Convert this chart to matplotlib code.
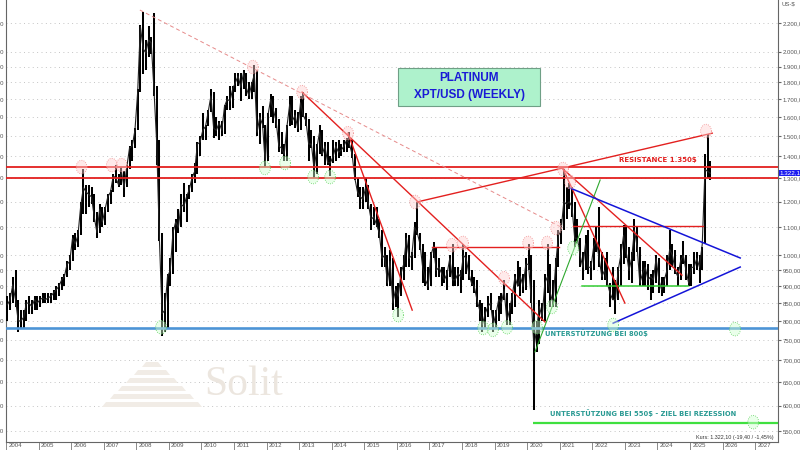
import numpy as np
import matplotlib
matplotlib.use("Agg")
import matplotlib.pyplot as plt
from matplotlib.path import Path
from matplotlib.patches import Rectangle, Polygon
import matplotlib.transforms as mtransforms

# ---------------- data (monthly, Jan 2004 .. Aug 2025) ----------------
start_year = 2004
high = [
    870, 880, 930, 950, 860, 830, 830, 860, 870, 860, 870, 870,        # 2004
    870, 880, 880, 880, 880, 890, 900, 910, 930, 940, 980, 1000,       # 2005
    1070, 1080, 1090, 1200, 1340, 1270, 1270, 1260, 1230, 1160, 1190, 1180,  # 2006
    1180, 1230, 1250, 1320, 1360, 1320, 1350, 1330, 1360, 1450, 1480, 1540,  # 2007
    1760, 2190, 2290, 2080, 2180, 2100, 2280, 1780, 1480, 1080, 880, 940,    # 2008
    990, 1100, 1130, 1170, 1230, 1280, 1230, 1270, 1320, 1370, 1470, 1500,   # 2009
    1620, 1560, 1640, 1760, 1740, 1600, 1580, 1580, 1670, 1720, 1780, 1780,  # 2010
    1860, 1860, 1860, 1880, 1860, 1800, 1800, 1910, 1880, 1620, 1660, 1560,  # 2011
    1620, 1730, 1720, 1650, 1590, 1520, 1460, 1560, 1720, 1720, 1640, 1630,  # 2012
    1720, 1740, 1620, 1590, 1530, 1500, 1460, 1560, 1530, 1470, 1470, 1400,  # 2013
    1480, 1470, 1480, 1460, 1480, 1490, 1520, 1480, 1410, 1300, 1260, 1260,  # 2014
    1300, 1270, 1190, 1180, 1180, 1130, 1090, 1030, 1000, 1020, 990, 900,    # 2015
    910, 960, 1000, 1080, 1070, 1010, 1120, 1200, 1080, 1040, 1010, 960,     # 2016
    1010, 1045, 1030, 990, 960, 960, 950, 1000, 1040, 960, 960, 950,         # 2017
    1040, 1010, 1000, 950, 930, 920, 860, 850, 840, 870, 880, 830,           # 2018
    830, 870, 880, 920, 880, 850, 880, 940, 980, 960, 940, 990,              # 2019
    1040, 1000, 920, 800, 860, 850, 940, 1040, 970, 920, 990, 1090,          # 2020
    1130, 1340, 1260, 1280, 1260, 1200, 1130, 1060, 1010, 1070, 1090, 980,   # 2021
    1060, 1100, 1180, 1010, 990, 1010, 910, 960, 920, 960, 1040, 1110,       # 2022
    1110, 1030, 1010, 1130, 1100, 1030, 980, 980, 970, 940, 950, 1000,       # 2023
    990, 930, 930, 1000, 1090, 1040, 1020, 960, 1000, 1050, 1000, 970,       # 2024
    970, 1010, 1010, 1000, 1030, 1410, 1510, 1380,                           # 2025
]
low = [
    800, 830, 850, 840, 770, 780, 780, 800, 820, 820, 830, 830,
    840, 850, 850, 850, 850, 860, 860, 870, 890, 900, 930, 950,
    980, 1020, 1030, 1070, 1150, 1150, 1180, 1190, 1120, 1060, 1080, 1100,
    1110, 1160, 1190, 1240, 1280, 1260, 1270, 1220, 1260, 1340, 1380, 1440,
    1530, 1740, 1850, 1880, 1960, 1980, 1720, 1360, 1050, 760, 770, 780,
    900, 940, 1010, 1080, 1100, 1160, 1120, 1210, 1240, 1280, 1320, 1400,
    1480, 1480, 1550, 1630, 1490, 1500, 1480, 1500, 1510, 1640, 1640, 1650,
    1740, 1780, 1690, 1760, 1720, 1700, 1700, 1740, 1500, 1460, 1540, 1350,
    1380, 1600, 1570, 1540, 1420, 1410, 1380, 1380, 1550, 1560, 1540, 1520,
    1530, 1600, 1550, 1380, 1440, 1300, 1320, 1410, 1400, 1360, 1360, 1310,
    1370, 1380, 1390, 1400, 1420, 1420, 1440, 1390, 1290, 1220, 1170, 1170,
    1200, 1170, 1090, 1110, 1100, 1060, 960, 960, 900, 900, 830, 840,
    810, 870, 920, 960, 960, 950, 990, 1070, 1020, 910, 900, 890,
    900, 990, 930, 930, 900, 910, 890, 930, 900, 900, 900, 880,
    920, 940, 920, 900, 880, 840, 800, 770, 780, 810, 830, 770,
    780, 800, 820, 860, 790, 790, 820, 840, 900, 870, 880, 890,
    950, 850, 590, 720, 740, 800, 800, 880, 840, 840, 840, 960,
    1040, 1090, 1130, 1170, 1140, 1030, 1050, 960, 920, 950, 940, 920,
    950, 1010, 960, 920, 920, 900, 840, 860, 820, 860, 900, 970,
    990, 920, 910, 980, 1010, 900, 900, 900, 890, 860, 880, 910,
    880, 870, 880, 900, 950, 960, 940, 900, 920, 970, 920, 900,
    900, 940, 950, 910, 950, 1040, 1300, 1290,
]
close = [
    845, 860, 905, 860, 800, 800, 810, 850, 850, 840, 860, 850,
    860, 865, 860, 865, 870, 880, 890, 900, 920, 930, 970, 980,
    1060, 1040, 1070, 1180, 1260, 1240, 1230, 1220, 1140, 1080, 1170, 1120,
    1170, 1220, 1240, 1310, 1300, 1270, 1330, 1260, 1350, 1440, 1450, 1530,
    1740, 2180, 2020, 1990, 2080, 2060, 1760, 1470, 1060, 820, 830, 930,
    950, 1080, 1120, 1100, 1190, 1180, 1220, 1250, 1300, 1330, 1460, 1470,
    1530, 1550, 1630, 1720, 1540, 1530, 1570, 1530, 1660, 1700, 1690, 1760,
    1800, 1840, 1770, 1860, 1770, 1720, 1790, 1850, 1520, 1600, 1560, 1370,
    1610, 1700, 1640, 1580, 1450, 1440, 1410, 1550, 1670, 1580, 1610, 1540,
    1680, 1610, 1580, 1460, 1460, 1340, 1440, 1520, 1410, 1450, 1370, 1370,
    1400, 1450, 1420, 1430, 1450, 1480, 1460, 1410, 1300, 1240, 1220, 1210,
    1260, 1190, 1130, 1140, 1110, 1080, 990, 1000, 910, 980, 850, 890,
    870, 940, 970, 1060, 990, 1000, 1100, 1080, 1040, 960, 920, 900,
    1000, 1030, 950, 960, 940, 920, 940, 990, 920, 920, 940, 930,
    1000, 990, 940, 910, 900, 860, 830, 790, 820, 840, 850, 790,
    820, 860, 850, 890, 800, 830, 870, 930, 900, 930, 900, 970,
    970, 860, 730, 780, 840, 810, 910, 930, 880, 850, 970, 1070,
    1090, 1200, 1190, 1200, 1180, 1060, 1060, 1000, 960, 1040, 960, 960,
    1030, 1050, 990, 930, 950, 910, 880, 860, 860, 950, 1000, 1070,
    1010, 950, 990, 1090, 1030, 910, 940, 960, 920, 930, 920, 990,
    920, 890, 920, 950, 1020, 1000, 950, 930, 980, 1000, 950, 910,
    960, 960, 990, 960, 1040, 1340, 1330, 1322,
]

price_ticks = [550, 600, 650, 700, 750, 800, 850, 900, 950, 1000, 1100, 1200,
               1300, 1400, 1500, 1600, 1700, 1800, 1900, 2000, 2200]
year_ticks = list(range(2004, 2028))

resistance_levels = [1350, 1300]
support_800 = 781
support_550 = 565
support_550_start = 2020.18
green_level_900 = (2021.69, 2024.94, 900)

# trendlines: ((year, price), (year, price))
dashed_trend = ((2008.11, 2303), (2021.10, 1097))
red_trends = [
    ((2013.09, 1742), (2020.55, 797)),
    ((2014.50, 1515), (2016.47, 830)),
    ((2016.62, 1199), (2025.68, 1515)),
    ((2017.08, 1030), (2020.98, 1030)),
    ((2021.41, 1105), (2025.40, 1105)),
    ((2021.10, 1341), (2023.00, 850)),
    ((2021.10, 1341), (2024.75, 935)),
]
green_trend = ((2020.24, 720), (2022.24, 1292))
blue_trends = [
    ((2021.32, 1257), (2026.54, 991)),
    ((2022.64, 794), (2026.54, 961)),
]

high_marks_year = [2006.32, 2007.25, 2007.55, 2011.58, 2013.09, 2014.50, 2016.56,
                   2017.69, 2018.03, 2019.29, 2020.03, 2020.61, 2020.89, 2021.10,
                   2021.32, 2025.49]
high_marks_price = [1350, 1359, 1359, 1897, 1742, 1515, 1199, 1035, 1043, 925,
                    1043, 1043, 1097, 1341, 1283, 1526]
low_marks_year = [2008.76, 2011.95, 2012.57, 2013.43, 2013.95, 2016.04, 2018.65,
                  2018.95, 2019.38, 2020.30, 2020.76, 2021.41, 2022.64, 2026.38,
                  2026.94]
low_marks_price = [783, 1346, 1369, 1305, 1305, 816, 781, 776, 783, 783, 839,
                   1025, 789, 778, 567]

last_price_label = "1.322,1"
kurs_text = "Kurs: 1.322,10 (-19,40 / -1,45%)"

# ---------------- figure ----------------
W, H = 800, 450
fig = plt.figure(figsize=(8, 4.5), dpi=100)
fig.patch.set_facecolor("white")


def fx(px):
    return px / W


def fy(py):
    return 1 - py / H


ax = fig.add_axes([fx(6), fy(442), fx(778) - fx(6), fy(0) - fy(442)])
ax.set_yscale("log")
ax.set_xlim(2004.0, 2027.70)
ax.set_ylim(530, 2383)

n = len(close)
t = start_year + (np.arange(n) + 0.5) / 12.0

# price bars
ax.vlines(t, low, high, color="black", lw=1.45, zorder=3)
ax.plot(t, close, color="#222222", lw=0.8, zorder=3)

# grid
for p in price_ticks:
    ax.axhline(p, color="#c4c4c4", lw=0.7, ls=(0, (1, 3.5)), zorder=0)

# axis styling
ax.yaxis.tick_right()
ax.set_yticks(price_ticks)
ax.yaxis.set_minor_locator(matplotlib.ticker.NullLocator())


def de_fmt(v):
    s = f"{v:,.2f}"
    return s.replace(",", "X").replace(".", ",").replace("X", ".")


ax.set_yticklabels([de_fmt(p) for p in price_ticks], fontsize=4.3,
                   color="#555555", family="Liberation Sans")
ax.tick_params(axis="y", which="both", length=2, pad=1.5, color="#666666")
ax.set_xticks(year_ticks)
ax.set_xticklabels([""] * len(year_ticks))
ax.tick_params(axis="x", length=8, direction="out", color="#777777", width=0.6)
ax.spines["top"].set_visible(False)
for s in ["left", "right", "bottom"]:
    ax.spines[s].set_color("#666666")
    ax.spines[s].set_linewidth(0.8)

trans = mtransforms.blended_transform_factory(ax.transData, ax.transAxes)
for y in year_ticks:
    ax.text(y + 0.07, -0.003, str(y), transform=trans, fontsize=4.3,
            va="top", ha="left", color="#555555", family="Liberation Sans",
            clip_on=False)

# left labels (cut off by the chart's left edge, as in the original)
for p in price_ticks:
    ax.text(-0.0025, p, de_fmt(p), transform=mtransforms.blended_transform_factory(
        ax.transAxes, ax.transData), fontsize=4.3, color="#555555", ha="right",
        va="center", family="Liberation Sans", clip_on=False)

# horizontal levels
for lvl in resistance_levels:
    ax.axhline(lvl, color="#e3201f", lw=1.3, zorder=4)
ax.axhline(support_800, color="#4d94d6", lw=1.9, zorder=4)
ax.plot([support_550_start, 2027.70], [support_550, support_550],
        color="#3fe03f", lw=1.6, zorder=4, solid_capstyle="butt")
ax.plot([green_level_900[0], green_level_900[1]], [green_level_900[2]] * 2,
        color="#33cc33", lw=1.1, zorder=4)

# trendlines
(x0, y0), (x1, y1) = dashed_trend
ax.plot([x0, x1], [y0, y1], color="#e68a8a", lw=0.7, ls=(0, (4, 3)), zorder=4)
for (x0, y0), (x1, y1) in red_trends:
    ax.plot([x0, x1], [y0, y1], color="#e3201f", lw=1.0, zorder=4)
(x0, y0), (x1, y1) = green_trend
ax.plot([x0, x1], [y0, y1], color="#2ea82e", lw=0.8, zorder=4)
for (x0, y0), (x1, y1) in blue_trends:
    ax.plot([x0, x1], [y0, y1], color="#1414d8", lw=1.1, zorder=4)

# dotted ellipse markers
th = np.linspace(0, 2 * np.pi, 40)
ell = Path(np.column_stack([np.cos(th) * 0.8, np.sin(th)]))
ax.scatter(high_marks_year, high_marks_price, marker=ell, s=95,
           facecolor=(1.0, 0.82, 0.82, 0.45), edgecolor="#f08c8c",
           linewidths=0.6, linestyles=":", zorder=5)
ax.scatter(low_marks_year, low_marks_price, marker=ell, s=95,
           facecolor=(0.82, 1.0, 0.82, 0.45), edgecolor="#5cd05c",
           linewidths=0.6, linestyles=":", zorder=5)

# annotations
ax.text(2024.02, 1383, "RESISTANCE 1.350$", color="#e3201f", fontsize=5.0,
        fontweight="bold", ha="center", va="center", family="DejaVu Sans",
        zorder=6)
ax.text(2020.55, 768, "UNTERSTÜTZUNG BEI 800$", color="#2a9a93", fontsize=4.9,
        fontweight="bold", ha="left", va="center", family="DejaVu Sans", zorder=6)
ax.text(2020.70, 585, "UNTERSTÜTZUNG BEI 550$ - ZIEL BEI REZESSION",
        color="#2a9a93", fontsize=4.9, fontweight="bold", ha="left",
        va="center", family="DejaVu Sans", zorder=6)

# watermark (Solit logo)
for i in range(6):
    ytop = 362 + 8 * i
    half_top = 6 + 8 * i
    half_bot = 10 + 8 * i
    cx = 152
    poly = Polygon([(fx(cx - half_top), fy(ytop)), (fx(cx + half_top), fy(ytop)),
                    (fx(cx + half_bot), fy(ytop + 5)), (fx(cx - half_bot), fy(ytop + 5))],
                   closed=True, transform=fig.transFigure, facecolor="#f1ece6",
                   edgecolor="none", zorder=1)
    fig.patches.append(poly)
fig.text(fx(204), fy(385), "Solit", fontsize=30, color="#ece6df",
         family="Liberation Serif", ha="left", va="center", zorder=1)

# title box
box = Rectangle((fx(398), fy(106)), fx(540) - fx(398), fy(68) - fy(106),
                transform=fig.transFigure, facecolor="#aef2cc",
                edgecolor="#6f9f86", lw=0.8, zorder=10)
fig.patches.append(box)
fig.text(fx(469), fy(78), "PLATINUM", fontsize=8.5, fontweight="bold",
         color="#1a1ad6", ha="center", va="center", family="Liberation Sans",
         zorder=11)
fig.text(fx(469), fy(95), "XPT/USD (WEEKLY)", fontsize=8.5, fontweight="bold",
         color="#1a1ad6", ha="center", va="center", family="Liberation Sans",
         zorder=11)

# right side extras
fig.text(fx(781), fy(4), "US-$", fontsize=4.3, color="#555555",
         family="Liberation Sans", ha="left", va="center")
fig.text(fx(779.5), fy(173), last_price_label, fontsize=4.5, color="white",
         family="Liberation Sans", ha="left", va="center",
         bbox=dict(boxstyle="square,pad=0.15", facecolor="#1c1cf0",
                   edgecolor="none"), zorder=12)
fig.text(fx(774), fy(437), kurs_text, fontsize=3.9, color="#333333",
         family="Liberation Sans", ha="right", va="center")

fig.savefig("out.png", dpi=100, facecolor="white")
